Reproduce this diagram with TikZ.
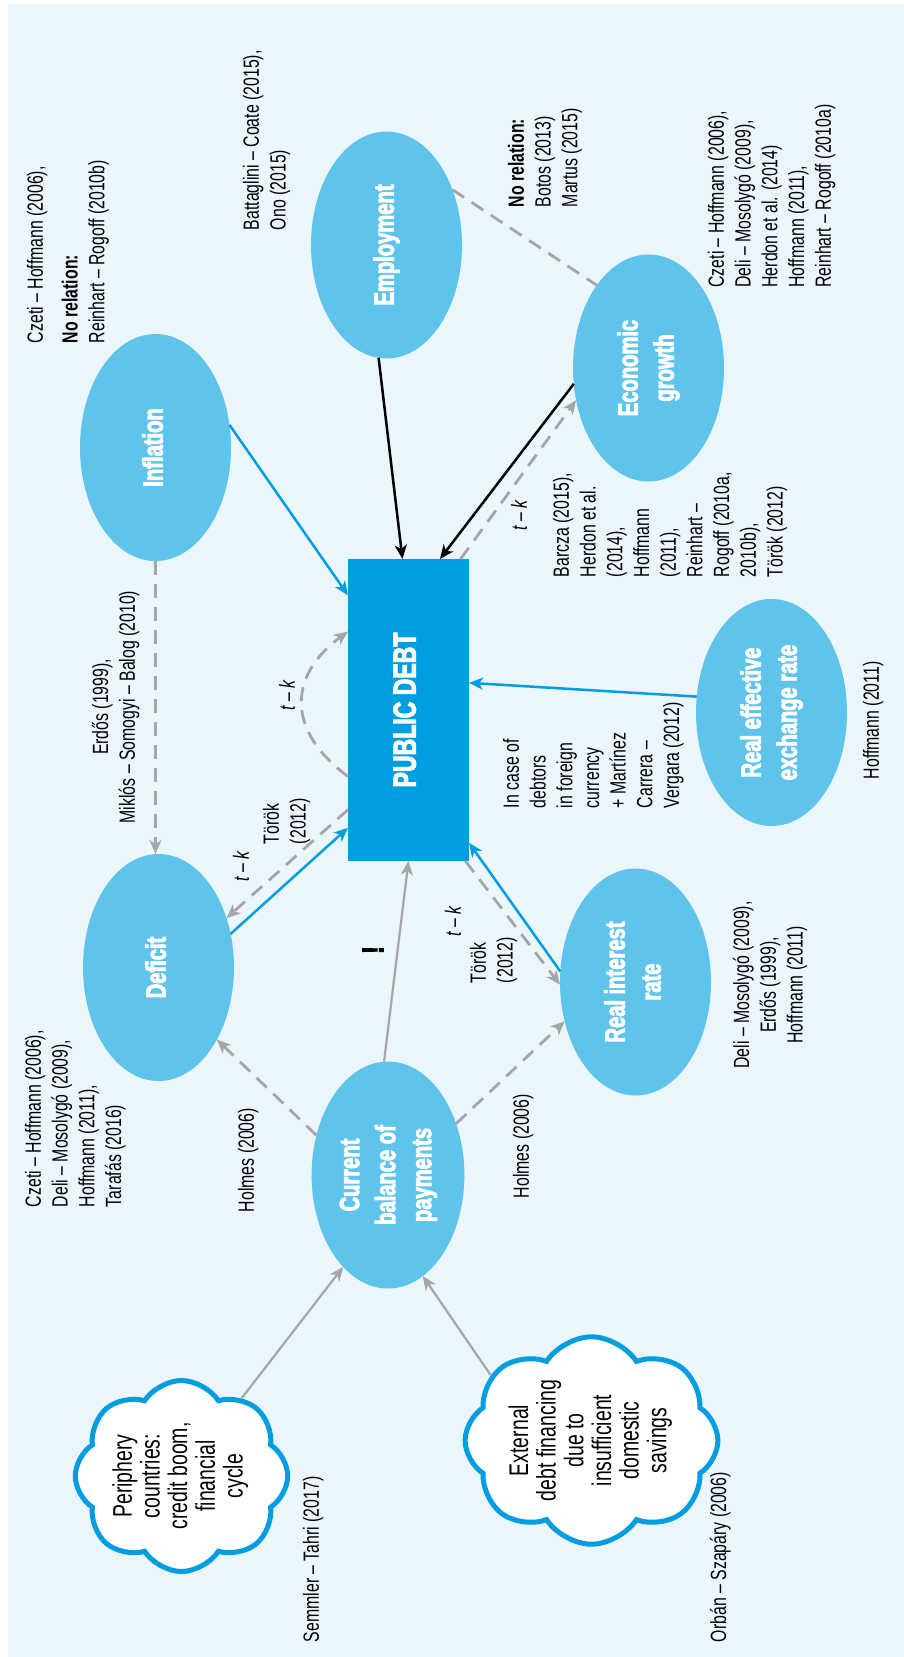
\documentclass[tikz,border=0pt]{standalone}
\usepackage{fontspec}
\setmainfont{Liberation Sans}[FakeStretch=0.72]
\newfontfamily\heavyfont{Liberation Sans}[FakeStretch=0.72, BoldFeatures={FakeBold=3}]
\usepackage{graphicx}
\usepackage{tikz}
\usetikzlibrary{arrows.meta}
\usetikzlibrary{calc}
\usetikzlibrary{shapes.geometric}
\usetikzlibrary{shapes.symbols}

\definecolor{panel}{HTML}{EAF5FC}
\definecolor{bubblefill}{HTML}{5EC4EC}
\definecolor{debtblue}{HTML}{009EE0}
\definecolor{linkgray}{HTML}{A6A6A6}

\newcommand{\turned}[1]{\rotatebox{90}{\begin{tabular}{@{}c@{}}#1\end{tabular}}}
\newcommand{\tk}{\textit{t} – \textit{k}}

\tikzset{
    bubble/.style={ellipse, fill=bubblefill, minimum width=151pt, minimum height=227pt,
        inner sep=0pt, outer sep=0pt, text=white, font=\fontsize{28}{36}\selectfont\heavyfont\bfseries},
    debtbox/.style={rectangle, fill=debtblue, minimum width=121pt, minimum height=302pt,
        inner sep=0pt, outer sep=0pt, text=white, font=\fontsize{32}{36}\selectfont\heavyfont\bfseries},
    cloudbox/.style={cloud, cloud puffs=8, cloud puff arc=115, cloud ignores aspect,
        draw=debtblue, line width=5pt, fill=white, minimum width=212pt, minimum height=191pt,
        inner sep=0pt, font=\fontsize{27}{27}\selectfont},
    note/.style={rotate=90, inner sep=0pt, outer sep=0pt, align=left, anchor=north west,
        font=\fontsize{22}{26.7}\selectfont},
    blueflow/.style={draw=debtblue, line width=2.5pt},
    blackflow/.style={draw=black, line width=2.5pt},
    grayflow/.style={draw=linkgray, line width=2.2pt},
    graydash/.style={draw=linkgray, line width=2.8pt, dash pattern=on 14pt off 9pt}
}

\begin{document}
\begin{tikzpicture}[x=1pt, y=-1pt]
    \useasboundingbox (0,0) rectangle (904,1657);
    \fill[panel] (8,4) rectangle (904,1657);

    % factors round the public debt
    \begin{scope}[every node/.style={bubble}]
        \node (infl) at (155.5,447.5) {\turned{Inflation}};
        \node (emp)  at (386.5,245)   {\turned{Employment}};
        \node (gro)  at (648.5,368)   {\turned{Economic\\growth}};
        \node (def)  at (158.5,967.5) {\turned{Deficit}};
        \node (reer) at (771.5,712.5) {\turned{Real effective\\exchange rate}};
        \node (rir)  at (635.5,982)   {\turned{Real interest\\rate}};
        \node (cbp)  at (388,1175)    {\turned{Current\\balance of\\payments}};
    \end{scope}
    \node[debtbox] (pd) at (408.5,710) {\turned{PUBLIC DEBT}};

    \node[cloudbox] (peri) at (181.5,1476) {\turned{Periphery\\countries:\\credit boom,\\financial\\cycle}};
    \node[cloudbox] (ext) at (591.5,1440.5) {\turned{External\\debt financing\\due to\\insufficient\\domestic\\savings}};

    % points on the box edges
    \coordinate (pdInfl)   at ($(pd.north west)!0.12!(pd.south west)$);
    \coordinate (pdLoopB)  at ($(pd.north west)!0.24!(pd.south west)$);
    \coordinate (pdLoopA)  at ($(pd.north west)!0.72!(pd.south west)$);
    \coordinate (pdDefOut) at ($(pd.north west)!0.83!(pd.south west)$);
    \coordinate (pdDefIn)  at ($(pd.north west)!0.89!(pd.south west)$);
    \coordinate (pdEmp)    at ($(pd.north west)!0.45!(pd.north east)$);
    \coordinate (pdGroIn)  at ($(pd.north west)!0.76!(pd.north east)$);
    \coordinate (pdGroOut) at ($(pd.north west)!0.93!(pd.north east)$);
    \coordinate (pdReer)   at ($(pd.north east)!0.41!(pd.south east)$);
    \coordinate (pdRirIn)  at ($(pd.north east)!0.94!(pd.south east)$);
    \coordinate (pdRirOut) at ($(pd.south west)!0.97!(pd.south east)$);

    \begin{scope}[>={Stealth[length=14pt,width=12pt,inset=4pt]}]
        \path [->] (infl.17) edge[blueflow] (pdInfl);
        \path [->] (emp.266) edge[blackflow] (pdEmp);
        \path [->] (gro.192) edge[blackflow] (pdGroIn);
        \path [->] (pdGroOut) edge[graydash] (gro.204);
        \path (emp.40) edge[graydash] (gro.122);
        \path [->] (infl.south) edge[graydash] (infl.south |- def.north);
        \path [->] (def.25) edge[blueflow] (pdDefIn);
        \path [->] (pdDefOut) edge[graydash] (def.36);
        \draw [graydash,->] (pdLoopA) .. controls +(-61,-45) and +(-61,45) .. (pdLoopB);
        \path [->] (reer.168) edge[blueflow] (pdReer);
        \path [->] (rir.172) edge[blueflow] (pdRirIn);
        \path [->] (pdRirOut) edge[graydash] (rir.182);
        \path [->] (cbp.92) edge[grayflow] (pd.south);
        \path [->] (cbp.151) edge[graydash] (def.309);
        \path [->] (cbp.37) edge[graydash] (rir.209);
        \path [->] (peri) edge[grayflow] (cbp.244);
        \path [->] (ext.147) edge[grayflow] (cbp.289);
    \end{scope}

    % references
    \begin{scope}[every node/.style={note}]
        \node (refInfl) at (27,343) {Czeti – Hoffmann (2006),\\[8pt] \textbf{No relation:}\\ Reinhart – Rogoff (2010b)};
        \node (refEmp) at (243,230) {Battaglini – Coate (2015),\\ Ono (2015)};
        \node (refNone) at (508,207) {\textbf{No relation:}\\ Botos (2013)\\ Martus (2015)};
        \node (refGro) at (708,287.5) {Czeti – Hoffmann (2006),\\ Deli – Mosolygó (2009),\\ Herdon et al. (2014)\\ Hoffmann (2011),\\ Reinhart – Rogoff (2010a)};
        \node (refGroLag) at (553,577) {Barcza (2015),\\ Herdon et al.\\ (2014),\\ Hoffmann\\ (2011),\\ Reinhart –\\ Rogoff (2010a,\\ 2010b),\\ Török (2012)};
        \node[align=center, anchor=north] (refDefInfl) at (92,707) {Erdős (1999),\\ Miklós – Somogyi – Balog (2010)};
        \node (refDefLag) at (263,844) {Török\\ (2012)};
        \node (refRirLag) at (470,983) {Török\\ (2012)};
        \node (refReer) at (503,808) {In case of\\ debtors\\ in foreign\\ currency\\ + Martínez\\ Carrera –\\ Vergara (2012)};
        \node (refReerB) at (863,779) {Hoffmann (2011)};
        \node[align=center, anchor=north] (refRir) at (733,985) {Deli – Mosolygó (2009),\\ Erdős (1999),\\ Hoffmann (2011)};
        \node (refDef) at (25,1207) {Czeti – Hoffmann (2006),\\ Deli – Mosolygó (2009),\\ Hoffmann (2011),\\ Tarafás (2016)};
        \node (refHolA) at (238,1212) {Holmes (2006)};
        \node (refHolB) at (513,1198) {Holmes (2006)};
        \node (refPeri) at (303,1642) {Semmler – Tahri (2017)};
        \node (refExt) at (710,1642) {Orbán – Szapáry (2006)};
        \node[anchor=center] (tkDef) at (241,866) {\tk};
        \node[anchor=center] (tkLoop) at (287,695) {\tk};
        \node[anchor=center] (tkRir) at (453,921) {\tk};
        \node[anchor=center] (tkGro) at (519,515) {\tk};
        \node[anchor=center, font=\fontsize{30}{30}\selectfont\heavyfont\bfseries] (excl) at (373,950) {!};
    \end{scope}
\end{tikzpicture}
\end{document}
